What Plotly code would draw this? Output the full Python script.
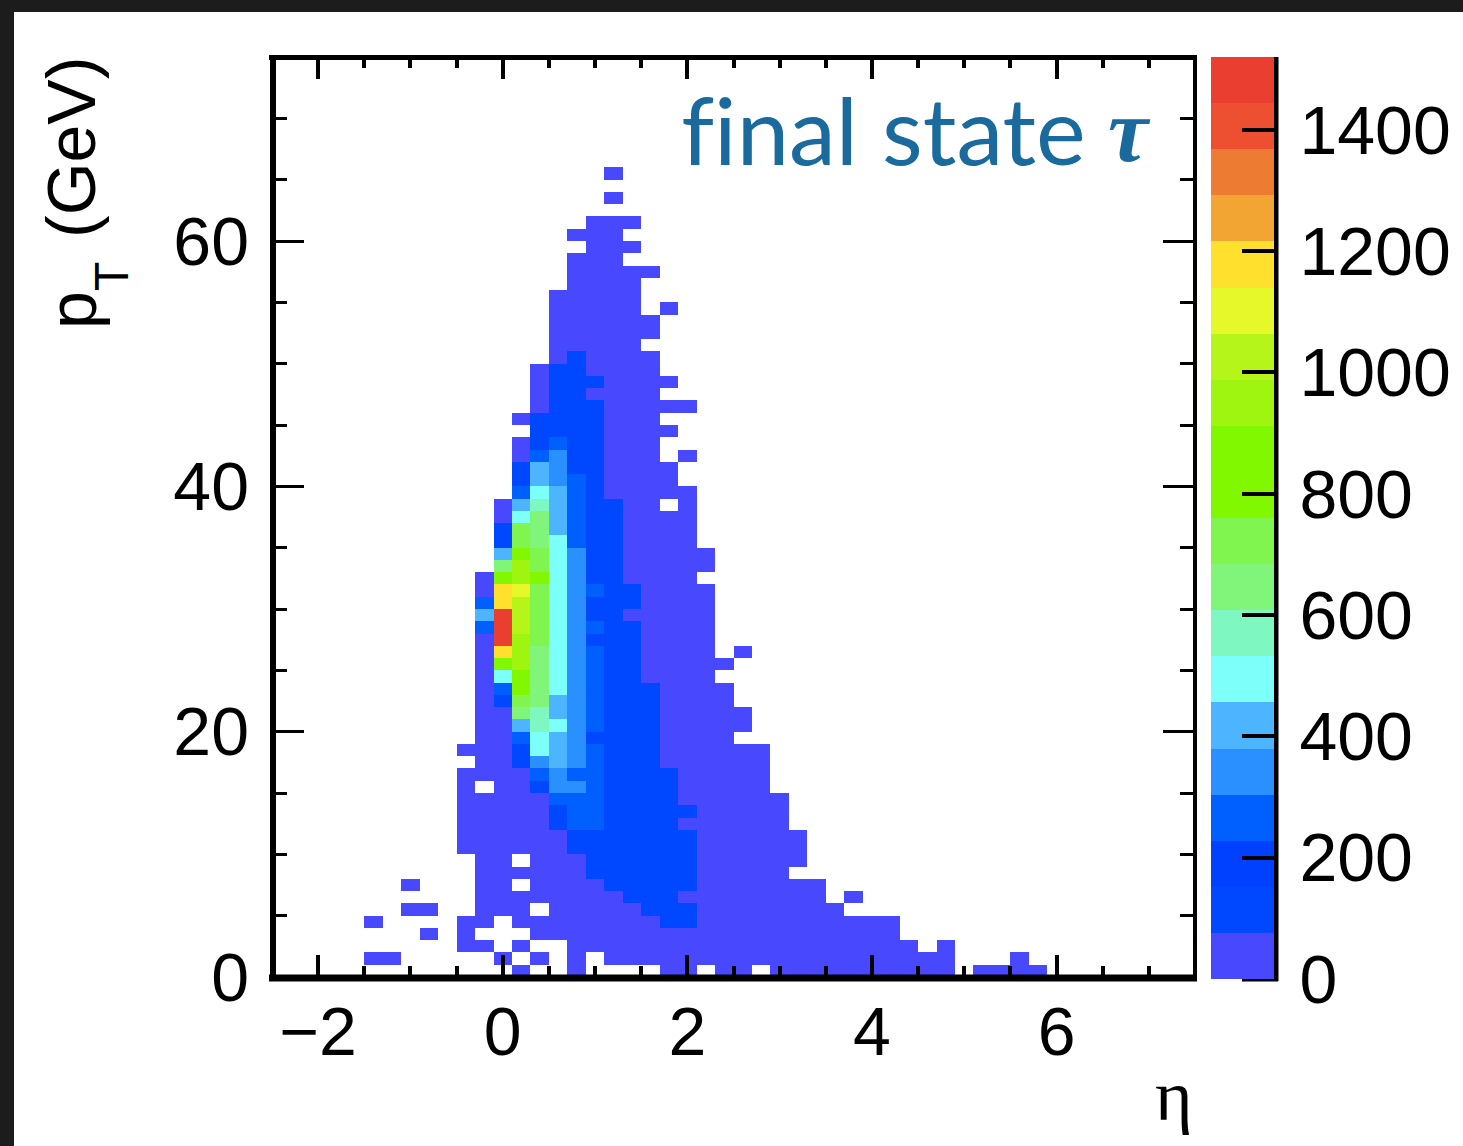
import numpy as np
import plotly.graph_objects as go

# Histogram binning
eta_min, eta_max, eta_bins = -2.5, 7.5, 50
pt_min, pt_max, pt_bins = 0.0, 75.0, 75
z_max = 1520.0

# Representative counts for the colour bands
L = 40; D = 130; B3 = 270; B4 = 340; B5 = 420; B6 = 500; B7 = 570; B8 = 650; B9 = 720
B10 = 800; B12 = 950; B13 = 1030; B14 = 1100; B15 = 1180; B19 = 1480

# Filled bins per pT row: (row, [(first eta bin, last eta bin, counts), ...])
counts_by_row = [
    (65, [(18, 18, L)]),
    (63, [(18, 18, L)]),
    (61, [(17, 19, L)]),
    (60, [(16, 18, L)]),
    (59, [(17, 19, L)]),
    (58, [(16, 18, L)]),
    (57, [(16, 20, L)]),
    (56, [(16, 19, L)]),
    (55, [(15, 19, L)]),
    (54, [(15, 19, L), (21, 21, L)]),
    (53, [(15, 20, L)]),
    (52, [(15, 20, L)]),
    (51, [(15, 19, L)]),
    (50, [(15, 15, L), (16, 16, D), (17, 20, L)]),
    (49, [(14, 14, L), (15, 16, D), (17, 20, L)]),
    (48, [(14, 14, L), (15, 17, D), (18, 21, L)]),
    (47, [(14, 14, L), (15, 16, D), (17, 20, L)]),
    (46, [(14, 14, L), (15, 17, D), (18, 22, L)]),
    (45, [(13, 13, L), (14, 17, D), (18, 20, L)]),
    (44, [(14, 17, D), (18, 21, L)]),
    (43, [(13, 13, L), (14, 14, D), (15, 15, B3), (16, 17, D), (18, 20, L)]),
    (42, [(13, 13, L), (14, 14, B3), (15, 15, B4), (16, 17, D), (18, 20, L), (22, 22, L)]),
    (41, [(13, 13, D), (14, 14, B5), (15, 15, B4), (16, 17, D), (18, 21, L)]),
    (40, [(13, 13, D), (14, 14, B5), (15, 15, B4), (16, 16, B3), (17, 17, D), (18, 21, L)]),
    (39, [(13, 13, B3), (14, 14, B6), (15, 15, B5), (16, 16, B3), (17, 17, D), (18, 22, L)]),
    (38, [(12, 12, L), (13, 13, B5), (14, 14, B7), (15, 15, B5), (16, 16, B3), (17, 18, D), (19, 20, L), (22, 22, L)]),
    (37, [(12, 12, L), (13, 13, B6), (14, 14, B8), (15, 15, B5), (16, 16, B3), (17, 18, D), (19, 22, L)]),
    (36, [(12, 12, D), (13, 13, B9), (14, 14, B8), (15, 15, B5), (16, 16, B3), (17, 18, D), (19, 22, L)]),
    (35, [(12, 12, D), (13, 13, B9), (14, 14, B8), (15, 15, B6), (16, 16, B3), (17, 18, D), (19, 22, L)]),
    (34, [(12, 12, B5), (13, 13, B10), (14, 14, B9), (15, 15, B6), (16, 16, B4), (17, 18, D), (19, 23, L)]),
    (33, [(12, 12, B8), (13, 13, B12), (14, 14, B9), (15, 15, B6), (16, 16, B4), (17, 18, D), (19, 23, L)]),
    (32, [(11, 11, L), (12, 12, B10), (13, 13, B12), (14, 14, B10), (15, 15, B6), (16, 16, B4), (17, 18, D), (19, 22, L)]),
    (31, [(11, 11, L), (12, 12, B15), (13, 13, B14), (14, 14, B9), (15, 15, B6), (16, 16, B4), (17, 17, B3), (18, 19, D), (20, 23, L)]),
    (30, [(11, 11, B3), (12, 12, B15), (13, 13, B13), (14, 14, B9), (15, 15, B6), (16, 16, B4), (17, 19, D), (20, 23, L)]),
    (29, [(11, 11, B5), (12, 12, B19), (13, 13, B13), (14, 14, B9), (15, 15, B6), (16, 16, B4), (17, 18, D), (19, 23, L)]),
    (28, [(11, 11, B3), (12, 12, B19), (13, 13, B13), (14, 14, B9), (15, 15, B6), (16, 16, B4), (17, 17, B3), (18, 19, D), (20, 23, L)]),
    (27, [(11, 11, L), (12, 12, B19), (13, 13, B12), (14, 14, B9), (15, 15, B6), (16, 16, B4), (17, 19, D), (20, 23, L)]),
    (26, [(11, 11, L), (12, 12, B15), (13, 13, B12), (14, 14, B8), (15, 15, B6), (16, 16, B4), (17, 17, B3), (18, 19, D), (20, 23, L), (25, 25, L)]),
    (25, [(11, 11, L), (12, 12, B10), (13, 13, B12), (14, 14, B8), (15, 15, B6), (16, 16, B4), (17, 17, B3), (18, 19, D), (20, 24, L)]),
    (24, [(11, 11, L), (12, 12, B6), (13, 13, B10), (14, 14, B8), (15, 15, B6), (16, 16, B4), (17, 17, B3), (18, 19, D), (20, 23, L)]),
    (23, [(11, 11, L), (12, 12, B3), (13, 13, B10), (14, 14, B8), (15, 15, B6), (16, 16, B4), (17, 17, B3), (18, 20, D), (21, 24, L)]),
    (22, [(11, 11, L), (12, 12, D), (13, 13, B9), (14, 14, B8), (15, 15, B5), (16, 16, B4), (17, 17, B3), (18, 20, D), (21, 24, L)]),
    (21, [(11, 12, L), (13, 13, B8), (14, 14, B7), (15, 15, B5), (16, 16, B4), (17, 17, B3), (18, 20, D), (21, 25, L)]),
    (20, [(11, 12, L), (13, 13, B5), (14, 14, B7), (15, 15, B6), (16, 16, B4), (17, 17, B3), (18, 20, D), (21, 25, L)]),
    (19, [(11, 12, L), (13, 13, B3), (14, 14, B6), (15, 15, B5), (16, 16, B4), (17, 20, D), (21, 24, L)]),
    (18, [(10, 12, L), (13, 13, D), (14, 14, B6), (15, 15, B5), (16, 16, B4), (17, 17, B3), (18, 20, D), (21, 26, L)]),
    (17, [(11, 12, L), (13, 13, D), (14, 14, B4), (15, 15, B5), (16, 16, B4), (17, 17, B3), (18, 20, D), (21, 26, L)]),
    (16, [(10, 13, L), (14, 14, B3), (15, 15, B4), (16, 17, B3), (18, 21, D), (22, 26, L)]),
    (15, [(10, 10, L), (12, 13, L), (14, 14, D), (15, 16, B4), (17, 17, B3), (18, 21, D), (22, 26, L)]),
    (14, [(10, 14, L), (15, 17, B3), (18, 21, D), (22, 27, L)]),
    (13, [(10, 14, L), (15, 15, D), (16, 17, B3), (18, 22, D), (23, 27, L)]),
    (12, [(10, 14, L), (15, 15, D), (16, 17, B3), (18, 21, D), (22, 27, L)]),
    (11, [(10, 15, L), (16, 22, D), (23, 28, L)]),
    (10, [(10, 15, L), (16, 22, D), (23, 28, L)]),
    (9, [(11, 12, L), (14, 16, L), (17, 22, D), (23, 28, L)]),
    (8, [(11, 16, L), (17, 22, D), (23, 27, L)]),
    (7, [(7, 7, L), (11, 12, L), (14, 17, L), (18, 22, D), (23, 29, L)]),
    (6, [(11, 18, L), (19, 21, D), (22, 29, L), (31, 31, L)]),
    (5, [(7, 8, L), (11, 13, L), (15, 19, L), (20, 22, D), (23, 30, L)]),
    (4, [(5, 5, L), (10, 11, L), (13, 20, L), (21, 22, D), (23, 33, L)]),
    (3, [(8, 8, L), (10, 10, L), (14, 33, L)]),
    (2, [(10, 11, L), (13, 13, L), (16, 34, L), (36, 36, L)]),
    (1, [(5, 6, L), (12, 12, L), (14, 14, L), (16, 16, L), (18, 36, L), (40, 40, L)]),
    (0, [(13, 13, L), (16, 16, L), (21, 22, L), (24, 25, L), (27, 36, L), (38, 41, L)]),
]

band_colors = [
    "#4848FF", "#0048FF", "#0040FF", "#005FFF", "#2A8FFF", "#4DB5FF", "#7DFFFA", "#7FF7C0",
    "#80F57A", "#80F550", "#82F800", "#82F800", "#9FF50F", "#B5F51A", "#E6F72A", "#FFE02D",
    "#F2A533", "#EE7B32", "#EC5030", "#EA3E30",
]

eta_edges = np.linspace(eta_min, eta_max, eta_bins + 1)
pt_edges = np.linspace(pt_min, pt_max, pt_bins + 1)
z = np.full((pt_bins, eta_bins), np.nan)
for row, runs in counts_by_row:
    for first, last, value in runs:
        z[row, first:last + 1] = value

n = len(band_colors)
colorscale = []
for i, c in enumerate(band_colors):
    colorscale += [[i / n, c], [(i + 1) / n, c]]

W, H = 1463, 1146
L_PX, R_PX, T_PX, B_PX = 272, 1195, 57, 977
fx = lambda p: (p - L_PX) / (R_PX - L_PX)
fy = lambda p: (B_PX - p) / (B_PX - T_PX)
FONT = "Liberation Sans"
TICK = dict(family=FONT, size=68, color="black")

fig = go.Figure(go.Heatmap(
    x=eta_edges, y=pt_edges, z=z, zmin=0, zmax=z_max, colorscale=colorscale,
    hoverongaps=False,
    colorbar=dict(
        x=fx(1211), xanchor="left", y=1, yanchor="top", len=922, lenmode="pixels",
        thickness=63, thicknessmode="pixels", xpad=0, ypad=0, outlinewidth=0,
        tick0=0, dtick=200, ticks="inside", ticklen=32, tickwidth=4, tickcolor="black",
        tickfont=TICK, tickprefix="\u200a\u200a",
    ),
))

def hline(x0, x1, y, w):
    return dict(type="line", xref="paper", yref="paper", x0=fx(x0), x1=fx(x1), y0=fy(y), y1=fy(y),
                line=dict(color="black", width=w), layer="above")

def vline(x, y0, y1, w):
    return dict(type="line", xref="paper", yref="paper", x0=fx(x), x1=fx(x), y0=fy(y0), y1=fy(y1),
                line=dict(color="black", width=w), layer="above")

shapes = [
    dict(type="rect", xref="paper", yref="paper", x0=fx(0), x1=fx(W), y0=fy(0), y1=fy(12),
         fillcolor="#1C1C1C", line=dict(width=0), layer="above"),
    dict(type="rect", xref="paper", yref="paper", x0=fx(0), x1=fx(14), y0=fy(0), y1=fy(H),
         fillcolor="#1C1C1C", line=dict(width=0), layer="above"),
    hline(269, 1197, 57.5, 5),
    hline(269, 1197, 978, 7),
    vline(273, 55, 981, 6),
    vline(1195, 55, 981, 4),
    vline(1276, 57, 981, 5),
    hline(1242, 1278, 979, 5),
]

TITLE_FONT = dict(family=FONT, size=68, color="black")
fig.update_layout(
    width=W, height=H, autosize=False, paper_bgcolor="white", plot_bgcolor="white",
    margin=dict(l=L_PX, r=W - R_PX, t=T_PX, b=H - B_PX, pad=0, autoexpand=False),
    shapes=shapes, showlegend=False,
    xaxis=dict(
        range=[eta_min, eta_max], tick0=0, dtick=2, ticks="inside", ticklen=22, tickwidth=4,
        tickcolor="black", mirror="ticks", showline=False, showgrid=False, zeroline=False,
        tickfont=TICK, ticklabelstandoff=9, automargin=False,
        minor=dict(ticks="inside", ticklen=11, tickwidth=4, tickcolor="black", dtick=0.5, tick0=0, showgrid=False),
    ),
    yaxis=dict(
        range=[pt_min, pt_max], tick0=0, dtick=20, ticks="inside", ticklen=32, tickwidth=3,
        tickcolor="black", mirror="ticks", showline=False, showgrid=False, zeroline=False,
        tickfont=TICK, ticklabelstandoff=22, automargin=False,
        minor=dict(ticks="inside", ticklen=15, tickwidth=3, tickcolor="black", dtick=5, tick0=0, showgrid=False),
    ),
    annotations=[
        dict(text="(GeV)", textangle=-90, xref="paper", yref="paper", x=fx(71), y=fy(148),
             xanchor="center", yanchor="middle", showarrow=False, font=TITLE_FONT),
        dict(text="p", textangle=-90, xref="paper", yref="paper", x=fx(72), y=fy(310),
             xanchor="center", yanchor="middle", showarrow=False, font=TITLE_FONT),
        dict(text="T", textangle=-90, xref="paper", yref="paper", x=fx(112), y=fy(277),
             xanchor="center", yanchor="middle", showarrow=False, font=dict(family=FONT, size=48, color="black")),
        dict(text="\u03b7", xref="paper", yref="paper", x=fx(1174), y=fy(1096), xanchor="center", yanchor="middle",
             showarrow=False, font=dict(family="Liberation Serif", size=72, color="black")),
        dict(text="final state", xref="paper", yref="paper", x=fx(680), y=fy(128), xanchor="left", yanchor="middle",
             showarrow=False, font=dict(family="Lato", size=94, color="#1A6A9E")),
        dict(text="<b><i>\u03c4</i></b>", xref="paper", yref="paper", x=fx(1129), y=fy(130), xanchor="center", yanchor="middle",
             showarrow=False, font=dict(family="Liberation Serif", size=90, color="#1A6A9E")),
    ],
)

fig.write_html("out.html", config=dict(displayModeBar=False),
               post_script="document.body.style.margin='0';document.documentElement.style.overflow='hidden';"
                           "var s=document.createElement('style');s.textContent='text{font-variant-ligatures:none !important;font-feature-settings:\"liga\" 0 !important}';document.head.appendChild(s);")
